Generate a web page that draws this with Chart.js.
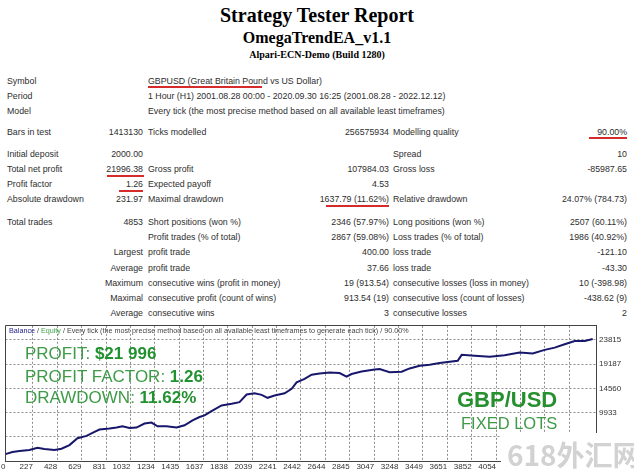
<!DOCTYPE html>
<html>
<head>
<meta charset="utf-8">
<script src="https://cdn.jsdelivr.net/npm/chart.js@4"></script>
<style>
html,body{margin:0;padding:0;background:#fff;}
body{width:634px;height:473px;position:relative;overflow:hidden;}
.h{position:absolute;left:0;width:634px;text-align:center;font-family:'Liberation Serif','Times New Roman',serif;font-weight:bold;color:#000;white-space:nowrap;}
.t{position:absolute;font-family:'Liberation Sans',Arial,sans-serif;font-size:8.8px;line-height:12px;height:12px;color:#2e2e2e;white-space:nowrap;}
.l1{left:7px}.r1{right:491px;text-align:right}
.l2{left:148px}.r2{right:245px;text-align:right}
.l3{left:393px}.r3{right:7px;text-align:right}
.u{position:absolute;height:2px;background:#d52b2b;}
#wrap{position:absolute;left:0;top:318px;width:634px;height:155px;}
.ov{position:absolute;white-space:nowrap;font-family:'Liberation Sans',Arial,sans-serif;}
.lab{color:#3f9b48;font-weight:normal;}
.val{color:#22912f;font-weight:bold;}
</style>
</head>
<body>
<div class="h" style="top:5px;font-size:20px;line-height:20px;">Strategy Tester Report</div>
<div class="h" style="top:30px;font-size:16px;line-height:16px;">OmegaTrendEA_v1.1</div>
<div class="h" style="top:50px;font-size:10px;line-height:10px;">Alpari-ECN-Demo (Build 1280)</div>

<div class="t l1" style="top:75px">Symbol</div><div class="t l2" style="top:75px">GBPUSD (Great Britain Pound vs US Dollar)</div>
<div class="t l1" style="top:90px">Period</div><div class="t l2" style="top:90px">1 Hour (H1) 2001.08.28 00:00 - 2020.09.30 16:25 (2001.08.28 - 2022.12.12)</div>
<div class="t l1" style="top:105px">Model</div><div class="t l2" style="top:105px">Every tick (the most precise method based on all available least timeframes)</div>

<div class="t l1" style="top:126px">Bars in test</div><div class="t r1" style="top:126px">1413130</div><div class="t l2" style="top:126px">Ticks modelled</div><div class="t r2" style="top:126px">256575934</div><div class="t l3" style="top:126px">Modelling quality</div><div class="t r3" style="top:126px">90.00%</div>

<div class="t l1" style="top:148px">Initial deposit</div><div class="t r1" style="top:148px">2000.00</div><div class="t l3" style="top:148px">Spread</div><div class="t r3" style="top:148px">10</div>
<div class="t l1" style="top:163px">Total net profit</div><div class="t r1" style="top:163px">21996.38</div><div class="t l2" style="top:163px">Gross profit</div><div class="t r2" style="top:163px">107984.03</div><div class="t l3" style="top:163px">Gross loss</div><div class="t r3" style="top:163px">-85987.65</div>
<div class="t l1" style="top:178px">Profit factor</div><div class="t r1" style="top:178px">1.26</div><div class="t l2" style="top:178px">Expected payoff</div><div class="t r2" style="top:178px">4.53</div>
<div class="t l1" style="top:193px">Absolute drawdown</div><div class="t r1" style="top:193px">231.97</div><div class="t l2" style="top:193px">Maximal drawdown</div><div class="t r2" style="top:193px">1637.79 (11.62%)</div><div class="t l3" style="top:193px">Relative drawdown</div><div class="t r3" style="top:193px">24.07% (784.73)</div>

<div class="t l1" style="top:216px">Total trades</div><div class="t r1" style="top:216px">4853</div><div class="t l2" style="top:216px">Short positions (won %)</div><div class="t r2" style="top:216px">2346 (57.97%)</div><div class="t l3" style="top:216px">Long positions (won %)</div><div class="t r3" style="top:216px">2507 (60.11%)</div>
<div class="t l2" style="top:231px">Profit trades (% of total)</div><div class="t r2" style="top:231px">2867 (59.08%)</div><div class="t l3" style="top:231px">Loss trades (% of total)</div><div class="t r3" style="top:231px">1986 (40.92%)</div>
<div class="t r1" style="top:246px">Largest</div><div class="t l2" style="top:246px">profit trade</div><div class="t r2" style="top:246px">400.00</div><div class="t l3" style="top:246px">loss trade</div><div class="t r3" style="top:246px">-121.10</div>
<div class="t r1" style="top:262px">Average</div><div class="t l2" style="top:262px">profit trade</div><div class="t r2" style="top:262px">37.66</div><div class="t l3" style="top:262px">loss trade</div><div class="t r3" style="top:262px">-43.30</div>
<div class="t r1" style="top:277px">Maximum</div><div class="t l2" style="top:277px">consecutive wins (profit in money)</div><div class="t r2" style="top:277px">19 (913.54)</div><div class="t l3" style="top:277px">consecutive losses (loss in money)</div><div class="t r3" style="top:277px">10 (-398.98)</div>
<div class="t r1" style="top:292px">Maximal</div><div class="t l2" style="top:292px">consecutive profit (count of wins)</div><div class="t r2" style="top:292px">913.54 (19)</div><div class="t l3" style="top:292px">consecutive loss (count of losses)</div><div class="t r3" style="top:292px">-438.62 (9)</div>
<div class="t r1" style="top:307px">Average</div><div class="t l2" style="top:307px">consecutive wins</div><div class="t r2" style="top:307px">3</div><div class="t l3" style="top:307px">consecutive losses</div><div class="t r3" style="top:307px">2</div>

<div class="u" style="left:148px;top:86px;width:114px"></div>
<div class="u" style="left:589px;top:137px;width:38px"></div>
<div class="u" style="left:107px;top:175px;width:37px"></div>
<div class="u" style="left:119px;top:190px;width:24px"></div>
<div class="u" style="left:326px;top:205px;width:63px"></div>

<div id="wrap"><canvas id="c" width="634" height="155"></canvas></div>

<div class="ov" style="left:9px;top:326px;font-size:7.2px;line-height:9px;color:#444;"><span style="color:#1c1c8c">Balance</span> / <span style="color:#3fa64a">Equity</span> / Every tick (the most precise method based on all available least timeframes to generate each tick) / 90.00%</div>

<div class="ov" style="left:25px;top:345px;font-size:17px;line-height:18px;"><span class="lab">PROFIT: </span><span class="val">$21 996</span></div>
<div class="ov" style="left:25px;top:368px;font-size:17px;line-height:18px;"><span class="lab">PROFIT FACTOR: </span><span class="val">1.26</span></div>
<div class="ov" style="left:25px;top:389px;font-size:17px;line-height:18px;"><span class="lab">DRAWDOWN: </span><span class="val">11.62%</span></div>

<div class="ov val" style="left:457px;top:389px;font-size:22px;line-height:22px;color:#26902f;">GBP/USD</div>
<div class="ov lab" style="left:461px;top:415px;font-size:16.5px;line-height:17px;">FIXED LOTS</div>

<div class="ov" style="left:501px;top:433px;width:133px;height:40px;background:#fff;"></div>
<div class="ov" style="left:507px;top:437px;font-family:'Noto Sans CJK SC',sans-serif;font-size:28px;line-height:34px;color:#d2d2d2;font-weight:bold;">618外汇网</div>

<script>
// ---- data ----
const tradeNumbers = [0, 58, 116, 198, 265, 322, 405, 463, 529, 595, 670, 736, 777, 860, 918, 967, 1025, 1083, 1149, 1207, 1257, 1331, 1414, 1480, 1546, 1604, 1645, 1703, 1786, 1869, 1934, 1993, 2059, 2117, 2166, 2224, 2307, 2365, 2406, 2472, 2530, 2596, 2679, 2761, 2819, 2860, 2943, 3051, 3092, 3175, 3274, 3340, 3423, 3505, 3588, 3737, 3770, 3877, 4001, 4125, 4249, 4357, 4456, 4539, 4621, 4704, 4787, 4853];
const balanceValues = [2000, 2390, 2580, 2770, 3205, 2959, 2770, 3016, 3717, 5045, 5481, 6239, 6694, 6884, 7073, 7320, 6997, 7073, 7832, 8021, 7320, 7320, 7073, 7509, 8457, 9083, 9405, 10221, 11301, 11624, 11927, 13387, 13633, 13330, 12761, 13197, 13633, 14468, 15719, 16364, 17179, 17425, 17615, 17501, 16800, 17312, 17805, 18184, 18260, 17653, 17748, 18373, 18885, 19075, 19397, 19833, 20971, 20781, 20592, 20914, 21407, 21218, 21919, 22355, 23000, 23625, 23625, 23996];
const xTickLabels = [0, 227, 428, 629, 831, 1032, 1234, 1435, 1637, 1838, 2039, 2241, 2442, 2644, 2845, 3047, 3248, 3449, 3651, 3852, 4054, 4255, 4457, 4658];
const yTickLabels = [679, 5306, 9933, 14560, 19187, 23815];
const xRange = [0, 4880];
const yRange = [679, 26526];

const points = tradeNumbers.map((t, i) => ({x: t, y: balanceValues[i]}));

const framePlugin = {
  id: 'frame',
  afterDraw(chart) {
    const a = chart.chartArea, ctx = chart.ctx;
    const l = Math.round(a.left) + 0.5, t = Math.round(a.top) - 0.5;
    ctx.save();
    ctx.strokeStyle = '#444';
    ctx.lineWidth = 1;
    ctx.beginPath();
    ctx.moveTo(l, Math.round(a.bottom));
    ctx.lineTo(l, t);
    ctx.lineTo(Math.round(a.right), t);
    ctx.stroke();
    ctx.restore();
  }
};

new Chart(document.getElementById('c'), {
  type: 'line',
  data: {
    datasets: [{
      label: 'Balance',
      data: points,
      borderColor: '#17176b',
      borderWidth: 2,
      pointRadius: 0,
      tension: 0,
      fill: false
    }]
  },
  options: {
    responsive: false,
    animation: false,
    devicePixelRatio: 1,
    layout: {padding: {left: 5, top: 7, right: 0, bottom: 0}},
    plugins: {legend: {display: false}, tooltip: {enabled: false}},
    scales: {
      x: {
        type: 'linear',
        min: xRange[0], max: xRange[1],
        afterBuildTicks: s => { s.ticks = xTickLabels.map(v => ({value: v})); },
        afterFit: s => { s.height = 12; },
        ticks: {
          align: 'end', padding: 1, autoSkip: false, maxRotation: 0,
          color: '#333', font: {family: 'Liberation Sans', size: 8},
          callback: v => String(v)
        },
        grid: {color: '#8a8a8a', drawTicks: false, lineWidth: 1},
        border: {display: true, color: '#444', dash: [2, 2]}
      },
      y: {
        type: 'linear',
        position: 'right',
        min: yRange[0], max: yRange[1],
        afterBuildTicks: s => { s.ticks = yTickLabels.map(v => ({value: v})); },
        afterFit: s => { s.width = 38; },
        ticks: {
          padding: 3, color: '#333', font: {family: 'Liberation Sans', size: 8},
          callback: v => String(v)
        },
        grid: {color: '#8a8a8a', drawTicks: false, lineWidth: 1},
        border: {display: true, color: '#444', dash: [2, 2]}
      }
    }
  },
  plugins: [framePlugin]
});
</script>
</body>
</html>
